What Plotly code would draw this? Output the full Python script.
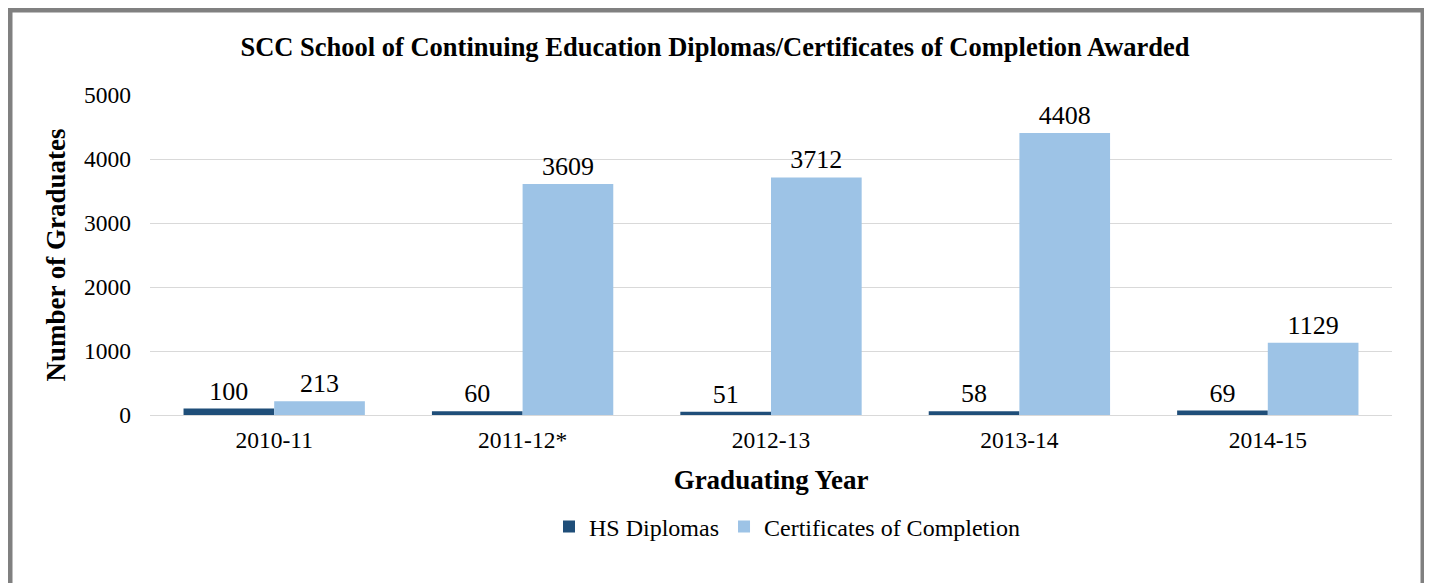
import plotly.graph_objects as go

# data
years = ["2010-11", "2011-12*", "2012-13", "2013-14", "2014-15"]
hs_diplomas = [100, 60, 51, 58, 69]
certificates = [213, 3609, 3712, 4408, 1129]

# the page body has an 8px margin, so the figure starts at (8, 8)
OFF = 8
W, H = 1432 - OFF, 583 - OFF
L, R, T, B = 150 - OFF, 40, 95 - OFF, 168
PW, PH = W - L - R, H - T - B


def px(x):
    return (x - OFF - L) / PW


def py(y):
    return (H - B - (y - OFF)) / PH


serif = "Liberation Serif, Times New Roman, serif"

fig = go.Figure()
fig.add_trace(go.Bar(
    x=years, y=hs_diplomas, name="HS Diplomas",
    marker=dict(color="#1F4E79", line=dict(width=0)),
    text=hs_diplomas, textposition="outside", cliponaxis=False,
    textfont=dict(family=serif, size=26, color="#000"),
))
fig.add_trace(go.Bar(
    x=years, y=certificates, name="Certificates of Completion",
    marker=dict(color="#9DC3E6", line=dict(width=0)),
    text=certificates, textposition="outside", cliponaxis=False,
    textfont=dict(family=serif, size=26, color="#000"),
))

fig.update_layout(
    width=W, height=H,
    margin=dict(l=L, r=R, t=T, b=B, autoexpand=False),
    paper_bgcolor="white", plot_bgcolor="white",
    font=dict(family=serif, color="#000"),
    barmode="group", bargap=0.27, bargroupgap=0,
    title=dict(
        text="<b>SCC School of Continuing Education Diplomas/Certificates of Completion Awarded</b>",
        x=px(715), xanchor="center", xref="paper", y=1 - (47 - OFF) / H, yanchor="middle",
        font=dict(family=serif, size=26.5, color="#000"),
    ),
    xaxis=dict(
        type="category",
        title=dict(text="<b>Graduating Year</b>", font=dict(size=27), standoff=18),
        tickfont=dict(size=23.5), showgrid=False, showline=False, ticks="",
        ticklabelstandoff=8,
    ),
    yaxis=dict(
        title=dict(text="<b>Number of Graduates</b>", font=dict(size=27), standoff=10),
        range=[0, 5000], dtick=1000, tickfont=dict(size=23.5),
        showgrid=True, gridcolor="#D9D9D9", gridwidth=1.3,
        zeroline=True, zerolinecolor="#D9D9D9", zerolinewidth=1.3,
        ticks="", ticklabelstandoff=18,
    ),
    legend=dict(
        orientation="h", x=px(787), xanchor="center", y=py(527), yanchor="middle",
        font=dict(size=24), tracegroupgap=0,
    ),
    shapes=[dict(
        type="rect", xref="paper", yref="paper",
        x0=px(9.5), x1=px(1423.5), y0=py(700), y1=py(9.5),
        line=dict(color="#808080", width=6), fillcolor="rgba(0,0,0,0)",
    )],
)

fig.write_html("out.html")
